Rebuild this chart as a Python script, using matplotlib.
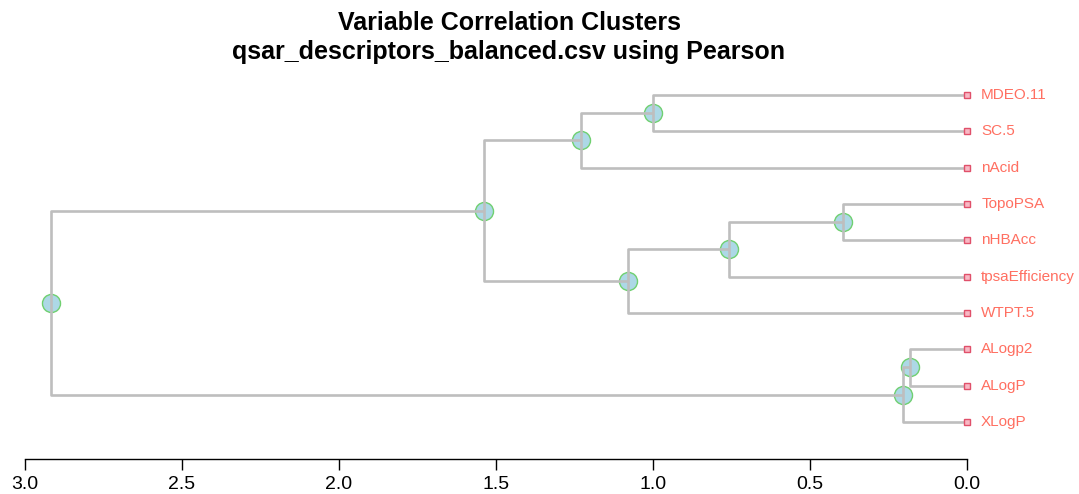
import matplotlib
matplotlib.use("Agg")
import matplotlib.pyplot as plt

# Leaves, top to bottom
labels = ["MDEO.11", "SC.5", "nAcid", "TopoPSA", "nHBAcc",
          "tpsaEfficiency", "WTPT.5", "ALogp2", "ALogP", "XLogP"]
# Merges: (left child, right child, height); children: leaf name or ("n", k)
merges = [
    ("ALogp2", "ALogP", 0.182),
    (("n", 0), "XLogP", 0.204),
    ("TopoPSA", "nHBAcc", 0.395),
    (("n", 2), "tpsaEfficiency", 0.758),
    ("MDEO.11", "SC.5", 1.000),
    (("n", 3), "WTPT.5", 1.080),
    (("n", 4), "nAcid", 1.229),
    (("n", 6), ("n", 5), 1.538),
    (("n", 7), ("n", 1), 2.917),
]
xticks = [3.0, 2.5, 2.0, 1.5, 1.0, 0.5, 0.0]

plt.rcParams['font.family'] = ['Liberation Sans', 'DejaVu Sans']
W, H = 1079, 494
fig = plt.figure(figsize=(W / 100, H / 100), dpi=100)
ax = fig.add_axes([25 / W, (H - 459) / H, 942 / W, 400 / H])

n = len(labels)
ypos = {lab: n - i for i, lab in enumerate(labels)}
line_col = "#BEBEBE"

def coord(c, nodes):
    if isinstance(c, tuple):
        return nodes[c[1]]
    return (0.0, ypos[c])

nodes = []
for a, b, h in merges:
    xa, ya = coord(a, nodes)
    xb, yb = coord(b, nodes)
    ax.plot([xa, h, h, xb], [ya, ya, yb, yb], color=line_col, lw=1.9,
            solid_capstyle="butt", zorder=3)
    ym = (ya + yb) / 2
    ax.plot([h], [ym], marker="o", ms=13, mfc="#ADD8E6", mec="#70D070",
            mew=1.0, zorder=2)
    nodes.append((h, ym))

for lab in labels:
    ax.plot([0], [ypos[lab]], marker="s", ms=4.5, mfc="#F8B8C4", mec="#E0506A",
            mew=1.0, zorder=4, clip_on=False)
    ax.text(-0.045, ypos[lab], lab, color="#FF6F61", fontsize=11,
            va="center", ha="left", clip_on=False)

ax.set_xlim(3.0, 0.0)
ax.set_ylim(-0.02, 10.99)
ax.set_xticks(xticks)
ax.set_xticklabels([f"{t:.1f}" for t in xticks], fontsize=14)
ax.tick_params(axis="x", length=8, width=1.0, pad=4)
ax.set_yticks([])
for s in ["top", "right", "left"]:
    ax.spines[s].set_visible(False)
ax.spines["bottom"].set_linewidth(1.0)

fig.text(509 / W, 1 - 23 / H, "Variable Correlation Clusters",
         ha="center", va="center", fontsize=18, fontweight="bold")
fig.text(509 / W, 1 - 52 / H, "qsar_descriptors_balanced.csv using Pearson",
         ha="center", va="center", fontsize=18, fontweight="bold")

fig.savefig("out.png", dpi=100)
